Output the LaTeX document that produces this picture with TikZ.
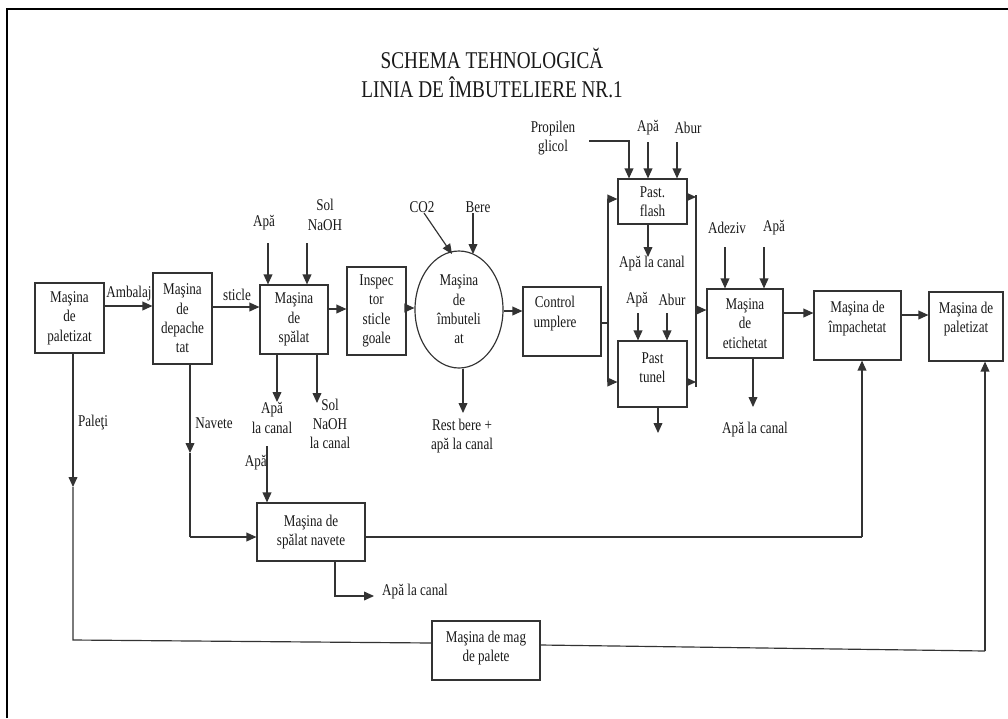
\documentclass[tikz,border=0pt]{standalone}
\usepackage{fontspec}
\setmainfont{Liberation Serif}[FakeStretch=0.8]
\usetikzlibrary{arrows.meta,shapes.geometric}
\tikzset{
  bx/.style 2 args={draw=black!80, line width=1pt, minimum width=#1*0.3mm, minimum height=#2*0.3mm},
  ln/.style={draw=black!80, line width=1pt},
  arr/.style={ln, -{Triangle[length=8.5pt,width=7.5pt]}},
}
\begin{document}
\begin{tikzpicture}[x=0.3mm,y=-0.3mm,
  every node/.style={font=\fontsize{14}{16.5}\selectfont, text=black!90, inner sep=0pt, align=center}]
\useasboundingbox (0,0) rectangle (1008,718);
\draw[line width=2.4pt] (7,718) -- (7,9) -- (1008,9);

\node[font=\fontsize{20.5}{24}\selectfont] (title) at (492,73) {SCHEMA TEHNOLOGICĂ\\LINIA DE ÎMBUTELIERE NR.1};

% boxes
\node[bx={69}{70}] (b1) at (69.5,318) {Maşina\\de\\paletizat};
\node[bx={59}{91}] (b2) at (182.5,318.5) {Maşina\\de\\depache\\tat};
\node[bx={68}{69}] (b3) at (294,319.5) {Maşina\\de\\spălat};
\node[bx={59}{88}] (b4) at (376.5,311) {Inspec\\tor\\sticle\\goale};
\node[draw=black!80, line width=1pt, ellipse, minimum width=88*0.3mm, minimum height=117*0.3mm] (m) at (459,309.5) {Maşina\\de\\îmbuteli\\at};
\node[bx={78}{69}] (b5) at (562,321.5) {};
\node (b5t) at (555,313.5) {Control\\umplere};
\node[bx={69}{45}] (fl) at (652.5,201.5) {Past.\\flash};
\node[bx={69}{66}] (tu) at (652.5,374) {};
\node (tut) at (652.5,368) {Past\\tunel};
\node[bx={76}{69}] (et) at (745,323.5) {Maşina\\de\\etichetat};
\node[bx={87}{69}] (im) at (857.5,325.5) {};
\node (imt) at (857.5,318.5) {Maşina de\\împachetat};
\node[bx={74}{69}] (p2) at (966,326.5) {};
\node (p2t) at (966,319) {Maşina de\\paletizat};
\node[bx={108}{58}] (nv) at (311,532) {Maşina de\\spălat navete};
\node[bx={108}{59}] (mg) at (486,650.5) {};
\node (mgt) at (486,648) {Maşina de mag\\de palete};

% labels
\node (lAmb) at (129,294) {Ambalaj};
\node (lSti) at (237,295) {sticle};
\node (lApa1) at (264,223) {Apă};
\node (lSol) at (325,215) {Sol\\NaOH};
\node (lApaC1) at (272,418) {Apă\\la canal};
\node (lSolC) at (330,424) {Sol\\NaOH\\la canal};
\node (lPal) at (93,423) {Paleţi};
\node (lNav) at (214,423) {Navete};
\node[anchor=east] (lApa2) at (267,463) {Apă};
\node[anchor=west] (lApaC2) at (382,592) {Apă la canal};
\node (lCO) at (422,207) {CO2};
\node (lBere) at (478,207) {Bere};
\node (lRest) at (462,436) {Rest bere +\\apă la canal};
\node (lProp) at (553,138) {Propilen\\glicol};
\node (lApa3) at (648,128) {Apă};
\node (lAbur1) at (688,128) {Abur};
\node (lApaC3) at (652,264) {Apă la canal};
\node (lApa4) at (637,300) {Apă};
\node (lAbur2) at (672,300) {Abur};
\node (lAdz) at (727,228) {Adeziv};
\node (lApa5) at (774,228) {Apă};
\node (lApaC4) at (755,430) {Apă la canal};

% coordinates
\coordinate (busL) at (608,323);
\coordinate (busR) at (696,310);
\coordinate (pA) at (73,640);
\coordinate (pB) at (985,651);
\coordinate (nA) at (190,537);
\coordinate (nB) at (862,537);

% main flow
\draw[arr] (b1.east |- 0,306) -- (b2.west |- 0,306);
\draw[arr] (b2.east |- 0,307) -- (b3.west |- 0,307);
\draw[arr] (b3.east |- 0,309) -- (b4.west |- 0,309);
\draw[arr] (b4.east |- 0,308) -- (m.west |- 0,308);
\draw[arr] (m.east |- 0,311) -- (b5.west |- 0,311);
\draw[ln] (b5.east |- busL) -- (busL);
\draw[arr] (busL) |- (fl.west |- 0,199);
\draw[arr] (busL) |- (tu.west |- 0,382);
\draw[arr] (fl.east |- 0,197) -- (696,197);
\draw[arr] (tu.east |- 0,382) -- (696,382);
\draw[ln] (696,195) -- (696,387);
\draw[arr] (busR) -- (et.west |- busR);
\draw[arr] (et.east |- 0,313) -- (im.west |- 0,313);
\draw[arr] (im.east |- 0,315) -- (p2.west |- 0,315);

% spalat
\draw[arr] (268,243) -- (b3.north -| 268,0);
\draw[arr] (307,243) -- (b3.north -| 307,0);
\draw[arr] (b3.south -| 277,0) -- (277,402);
\draw[arr] (b3.south -| 317,0) -- (317,403);

% imbuteliat
\draw[arr] (424,213) -- (452,254);
\draw[arr] (473,213) -- (473,254);
\draw[arr] (m.south -| 463,0) -- (463,413);

% pasteurizare
\draw[arr] (589,141) -| (fl.north -| 629,0);
\draw[arr] (648,142) -- (fl.north -| 648,0);
\draw[arr] (677,142) -- (fl.north -| 677,0);
\draw[arr] (fl.south -| 648,0) -- (648,257);
\draw[arr] (638,313) -- (tu.north -| 638,0);
\draw[arr] (667,313) -- (tu.north -| 667,0);
\draw[arr] (tu.south -| 658,0) -- (658,433);

% etichetat
\draw[arr] (725,247) -- (et.north -| 725,0);
\draw[arr] (764,247) -- (et.north -| 764,0);
\draw[arr] (et.south -| 753,0) -- (753,407);

% paleti
\draw[arr] (b1.south -| 73,0) -- (73,487);
\draw[ln] (73,487) -- (pA) -- (mg.west |- 0,643);
\draw[ln] (mg.east |- 0,645) -- (pB);
\draw[arr] (pB) -- (p2.south -| pB);

% navete
\draw[arr] (b2.south -| nA) -- (190,453);
\draw[ln] (190,453) -- (nA);
\draw[arr] (nA) -- (nv.west |- nA);
\draw[arr] (267,446) -- (nv.north -| 267,0);
\draw[arr] (nv.south -| 335,0) -- (335,596) -- (374,596);
\draw[ln] (nv.east |- nB) -- (nB);
\draw[arr] (nB) -- (im.south -| nB);
\end{tikzpicture}
\end{document}
